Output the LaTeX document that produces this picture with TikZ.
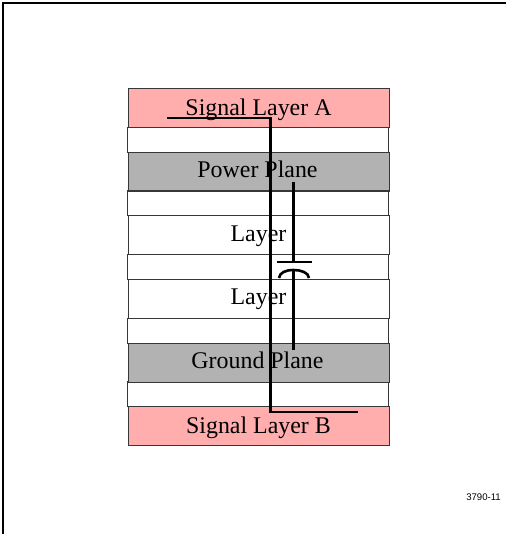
\documentclass[tikz,border=0pt]{standalone}
\usepackage{fontspec}
\setmainfont{Liberation Serif}
\newfontfamily\labelsans{Liberation Sans}
\definecolor{sigpink}{RGB}{255,173,173}
\definecolor{planegray}{RGB}{178,178,178}
\definecolor{edgegray}{RGB}{55,55,55}
\tikzset{
  x=1pt,y=-1pt,
  layerbox/.style={draw=edgegray,line width=1.3pt,rectangle,inner sep=0pt,anchor=north west,minimum width=261pt},
  sigbox/.style={layerbox,fill=sigpink,minimum height=39pt},
  planebox/.style={layerbox,fill=planegray,minimum height=38.5pt},
  corebox/.style={layerbox,fill=white,minimum height=39pt},
  gapbox/.style={layerbox,fill=white,minimum height=25pt},
  layertext/.style={font=\fontsize{23.9}{26}\selectfont,anchor=base,inner sep=0pt,text=black},
  wire/.style={draw=black,line width=2.6pt,line cap=butt,line join=miter},
  framepath/.style={draw=black,line width=2.2pt}
}
\begin{document}
\begin{tikzpicture}
\useasboundingbox (0,0) rectangle (506,534);
\coordinate (ftl) at (3,3);
\coordinate (ftr) at (506,3);
\coordinate (fbl) at (3,534);
\draw[framepath] (ftr) -- (ftl) -- (fbl);
% layers
\node[gapbox] (g1) at (127,127) {};
\node[gapbox] (g2) at (127,190) {};
\node[gapbox] (g3) at (127,254) {};
\node[gapbox] (g4) at (127,318) {};
\node[gapbox] (g5) at (127,381) {};
\node[sigbox] (sa) at (128,88) {};
\node[planebox] (pp) at (128,152) {};
\node[corebox] (l1) at (128,215) {};
\node[corebox] (l2) at (128,278.5) {};
\node[planebox] (gp) at (128,343) {};
\node[sigbox] (sb) at (128,406) {};
% labels
\node[layertext] (tsa) at (258.5,115.5) {Signal Layer A};
\node[layertext] (tpp) at (257.5,177.5) {Power Plane};
\node[layertext] (tl1) at (258.5,241.5) {Layer};
\node[layertext] (tl2) at (258.5,304.5) {Layer};
\node[layertext] (tgp) at (257.5,368.5) {Ground Plane};
\node[layertext] (tsb) at (258.5,433.5) {Signal Layer B};
\node[font=\labelsans\fontsize{9.6}{11}\selectfont,anchor=base,inner sep=0pt] (code) at (483.5,500) {3790-11};
% signal wire
\coordinate (wa) at (167,118);
\coordinate (wb) at (358,412);
\draw[wire] (wa) -- (270.5,118) -- (270.5,412) -- (wb);
% decoupling capacitor
\coordinate (ct) at (293.5,182);
\coordinate (cp) at (293.5,262);
\coordinate (cpl) at (277,262);
\coordinate (cpr) at (312,262);
\coordinate (cal) at (279,278);
\coordinate (car) at (309,278);
\coordinate (cat) at (293.5,270);
\coordinate (cb) at (293.5,350);
\draw[wire] (ct) -- (cp);
\draw[wire] (cpl) -- (cpr);
\draw[wire] (cal) .. controls (279.5,272.5) and (286,270) .. (cat) .. controls (301,270) and (308.5,272.5) .. (car);
\draw[wire] (cat) -- (cb);
\end{tikzpicture}
\end{document}
